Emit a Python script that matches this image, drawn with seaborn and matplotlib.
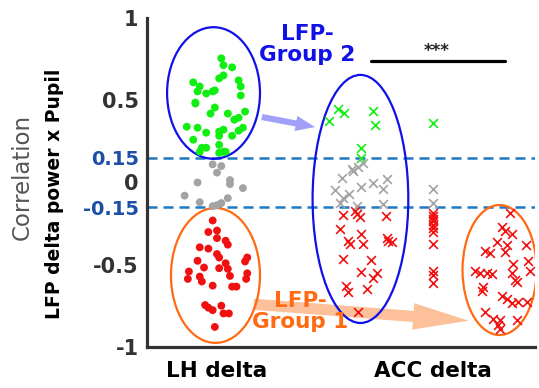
import numpy as np
import pandas as pd
import seaborn as sns
import matplotlib
matplotlib.use("Agg")
import matplotlib.pyplot as plt
from matplotlib.patches import Ellipse, FancyArrowPatch

# categories on x axis
categories = ["LH delta", "ACC delta"]

# LH delta dots: x position, correlation
lh_green_x = [0.02, 0.03, 0.07, -0.11, -0.08, -0.09, -0.05, -0.02, -0.01, 0.01, 0.03, 0.10, 0.11, 0.11,
              -0.10, -0.10, -0.01, -0.03, 0.05, 0.13, 0.10, 0.08, -0.14, -0.09, -0.05, 0.01, 0.03, 0.01,
              0.07, 0.10, 0.12, -0.11, -0.07, -0.05, -0.08, 0.01, 0.01, 0.03, 0.04]
lh_green_y = [0.755, 0.713, 0.70, 0.609, 0.584, 0.554, 0.541, 0.554, 0.56, 0.633, 0.651, 0.621, 0.584, 0.529,
              0.486, 0.48, 0.456, 0.419, 0.419, 0.431, 0.394, 0.382, 0.339, 0.333, 0.303, 0.309, 0.321, 0.284,
              0.284, 0.315, 0.333, 0.26, 0.211, 0.211, 0.187, 0.229, 0.18, 0.187, 0.187]
lh_gray_x = [-0.02, 0.02, 0.0, 0.06, -0.09, 0.06, 0.12, -0.15, -0.08, 0.05, 0.0, 0.02, -0.02]
lh_gray_y = [0.11, 0.10, 0.06, 0.015, 0.0, -0.01, -0.034, -0.08, -0.12, -0.095, -0.138, -0.125, -0.144]
lh_red_x = [-0.02, -0.04, 0.0, 0.0, 0.04, 0.05, -0.08, -0.04, 0.0, 0.01, 0.04, 0.14, 0.13, -0.09, -0.06,
            0.01, 0.05, -0.13, -0.135, -0.08, -0.07, 0.06, 0.14, 0.135, -0.02, 0.07, 0.09, -0.055, -0.04,
            -0.02, 0.02, 0.03, 0.055, -0.01]
lh_red_y = [-0.231, -0.301, -0.292, -0.338, -0.354, -0.378, -0.394, -0.402, -0.435, -0.456, -0.491, -0.456,
            -0.48, -0.476, -0.517, -0.521, -0.525, -0.541, -0.586, -0.572, -0.602, -0.568, -0.552, -0.586,
            -0.627, -0.633, -0.633, -0.745, -0.761, -0.776, -0.749, -0.796, -0.796, -0.878]

# ACC delta crosses (group 2 copy, actual column, group 1 copy)
acc_green_x = [0.56, 0.59, 0.52, 0.72, 0.73, 0.665, 0.665, 1.0]
acc_green_y = [0.448, 0.421, 0.372, 0.437, 0.352, 0.209, 0.148, 0.362]
acc_gray_x = [0.675, 0.654, 0.624, 0.631, 0.577, 0.786, 0.721, 0.665, 0.77, 0.546, 0.613, 0.582, 0.569,
              0.767, 0.647, 1.0, 1.0]
acc_gray_y = [0.121, 0.095, 0.081, 0.07, 0.026, 0.02, -0.001, -0.028, -0.042, -0.048, -0.072, -0.097,
              -0.124, -0.13, -0.144, -0.042, -0.124]
acc_red_x = [0.585, 0.639, 0.647, 0.662, 0.782, 0.569, 0.665, 0.608, 0.616, 0.677, 0.786, 0.793, 0.809,
             0.585, 0.712, 0.665, 0.742, 0.724, 0.597, 0.608, 0.696, 0.654,
             1.0, 1.0, 1.0, 1.0, 1.0, 1.0, 1.0, 1.0, 1.0, 1.0, 1.0,
             1.356, 1.318, 1.333, 1.364, 1.295, 1.341, 1.241, 1.264, 1.333, 1.431, 1.441, 1.449, 1.372,
             1.364, 1.38, 1.387, 1.194, 1.218, 1.249, 1.272, 1.233, 1.225, 1.318, 1.341, 1.364, 1.395,
             1.434, 1.241, 1.279, 1.31, 1.302, 1.387, 1.31]
acc_red_y = [-0.199, -0.174, -0.191, -0.211, -0.205, -0.28, -0.313, -0.358, -0.374, -0.374, -0.338, -0.354,
             -0.362, -0.464, -0.47, -0.546, -0.552, -0.582, -0.627, -0.664, -0.647, -0.79,
             -0.185, -0.205, -0.219, -0.235, -0.256, -0.276, -0.301, -0.374, -0.537, -0.561, -0.613,
             -0.185, -0.272, -0.292, -0.313, -0.362, -0.378, -0.415, -0.429, -0.423, -0.378, -0.48, -0.541,
             -0.497, -0.552, -0.592, -0.607, -0.541, -0.552, -0.552, -0.558, -0.633, -0.659, -0.688,
             -0.708, -0.735, -0.729, -0.729, -0.79, -0.827, -0.837, -0.867, -0.837, -0.888]

threshold = 0.15
green = "#11ee11"
red = "#f01010"
gray = "#a3a3a3"
blue = "#1010e8"
orange = "#ff6a13"
dash_blue = "#1f78c0"
dark = "#333333"

sns.set_style("white")
plt.rcParams['font.family'] = ['DejaVu Sans']

fig = plt.figure(figsize=(5.39, 3.88), dpi=100)
ax = fig.add_axes([147 / 539, 41 / 388, 388 / 539, 329 / 388])

# threshold lines
for t in (threshold, -threshold):
    ax.axhline(t, color=dash_blue, lw=1.8, dashes=(4, 2.4), zorder=1)

# ellipses around groups
ax.add_patch(Ellipse((-0.016, 0.544), 0.43, 0.80, fill=False, ec=blue, lw=1.6, zorder=3))
ax.add_patch(Ellipse((-0.007, -0.565), 0.412, 0.82, fill=False, ec=orange, lw=1.6, zorder=3))
ax.add_patch(Ellipse((0.664, -0.100), 0.443, 1.508, fill=False, ec=blue, lw=1.6, zorder=3))
ax.add_patch(Ellipse((1.308, -0.532), 0.343, 0.79, fill=False, ec=orange, lw=1.6, zorder=3))

# arrows
ax.add_patch(FancyArrowPatch((0.208, 0.398), (0.454, 0.337),
                             arrowstyle="simple,head_length=0.7,head_width=0.55,tail_width=0.22",
                             mutation_scale=20, color="#a0a0f8", lw=0, shrinkA=0, shrinkB=0, zorder=2))
ax.add_patch(FancyArrowPatch((0.17, -0.74), (1.165, -0.84),
                             arrowstyle="simple,head_length=2.0,head_width=0.95,tail_width=0.4",
                             mutation_scale=20, color="#fcc09a", lw=0, shrinkA=0, shrinkB=0, zorder=2))

# points
sns.scatterplot(x=lh_green_x, y=lh_green_y, color=green, s=32, edgecolor="none", ax=ax, zorder=4)
sns.scatterplot(x=lh_gray_x, y=lh_gray_y, color=gray, s=32, edgecolor="none", ax=ax, zorder=4)
sns.scatterplot(x=lh_red_x, y=lh_red_y, color=red, s=32, edgecolor="none", ax=ax, zorder=4)
sns.scatterplot(x=acc_green_x, y=acc_green_y, color=green, marker="x", s=40, linewidth=1.2, ax=ax, zorder=4)
sns.scatterplot(x=acc_gray_x, y=acc_gray_y, color=gray, marker="x", s=40, linewidth=1.2, ax=ax, zorder=4)
sns.scatterplot(x=acc_red_x, y=acc_red_y, color=red, marker="x", s=40, linewidth=1.2, ax=ax, zorder=4)

# significance bar
ax.plot([0.713, 1.333], [0.74, 0.74], color="black", lw=2.3, zorder=4)
ax.text(1.018, 0.80, "***", ha="center", va="center", fontsize=12, fontweight="bold")

# group labels
ax.text(0.417, 0.84, "LFP-\nGroup 2", ha="center", va="center", color=blue,
        fontsize=15.5, fontweight="bold", linespacing=1.1, zorder=5)
ax.text(0.384, -0.785, "LFP-\nGroup 1", ha="center", va="center", color=orange,
        fontsize=15.5, fontweight="bold", linespacing=1.1, zorder=5)

# axes
ax.set_xlim(-0.324, 1.472)
ax.set_ylim(-1, 1)
sns.despine(ax=ax)
for side in ("left", "bottom"):
    ax.spines[side].set_color(dark)
    ax.spines[side].set_linewidth(2.3)

ax.set_xticks([0, 1])
ax.set_xticklabels(categories, fontsize=15.5, fontweight="bold", color="black")
ax.set_yticks([-1, -0.5, -threshold, 0, threshold, 0.5, 1])
ax.set_yticklabels(["-1", "-0.5", "-0.15", "0", "0.15", "0.5", "1"], fontsize=15, fontweight="bold")
ax.set_yticks([-0.75, -0.25, 0.25, 0.75], minor=True)
ax.tick_params(axis="both", which="both", direction="in", length=4, width=2, color=dark, pad=6)
ax.tick_params(axis="x", pad=10)
for lab, val in zip(ax.get_yticklabels(), [-1, -0.5, -0.15, 0, 0.15, 0.5, 1]):
    if abs(val) == threshold:
        lab.set_color("#1d4fa6")
        lab.set_fontsize(14)
    else:
        lab.set_color(dark)
for tk, val in zip(ax.yaxis.get_major_ticks(), [-1, -0.5, -0.15, 0, 0.15, 0.5, 1]):
    if abs(val) == threshold:
        tk.tick1line.set_color(dash_blue)

# y labels
fig.text(22 / 539, 1 - 177 / 388, "Correlation", rotation=90, ha="center", va="center",
         fontsize=16.5, color="#555555")
fig.text(55 / 539, 1 - 194 / 388, "LFP delta power x Pupil", rotation=90, ha="center", va="center",
         fontsize=13.5, fontweight="bold", color="black")

plt.savefig("out.png", dpi=100)
